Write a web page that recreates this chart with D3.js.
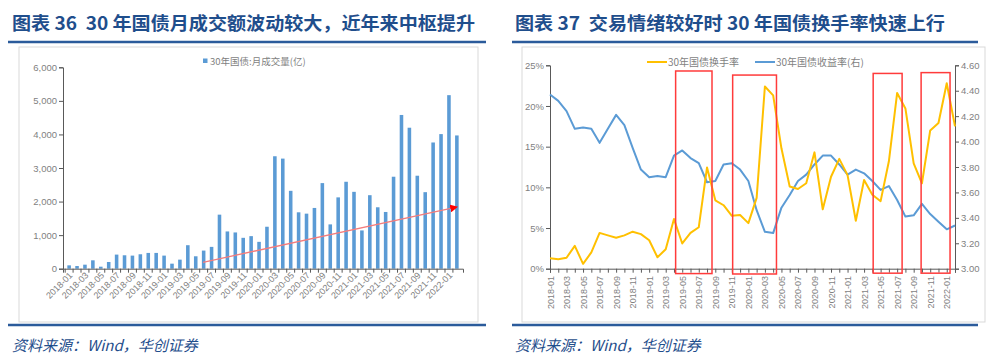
<!DOCTYPE html>
<html>
<head>
<meta charset="utf-8">
<script src="https://cdn.jsdelivr.net/npm/d3@7/dist/d3.min.js"></script>
<style>
  html, body { margin: 0; padding: 0; background: #fff; }
  svg { display: block; }
  .cn { font-family: "Noto Sans CJK SC", "Liberation Sans", sans-serif; }
  .num { font-family: "Liberation Sans", "Noto Sans CJK SC", sans-serif; }
  .ttl { white-space: pre; }
</style>
</head>
<body>
<div id="chart"></div>
<script>
// ---- data ----
const months = [
  "2018-01","2018-02","2018-03","2018-04","2018-05","2018-06","2018-07","2018-08","2018-09","2018-10","2018-11","2018-12",
  "2019-01","2019-02","2019-03","2019-04","2019-05","2019-06","2019-07","2019-08","2019-09","2019-10","2019-11","2019-12",
  "2020-01","2020-02","2020-03","2020-04","2020-05","2020-06","2020-07","2020-08","2020-09","2020-10","2020-11","2020-12",
  "2021-01","2021-02","2021-03","2021-04","2021-05","2021-06","2021-07","2021-08","2021-09","2021-10","2021-11","2021-12",
  "2022-01","2022-02"
];

// 30年国债:月成交量(亿)
const volume = [
  100, 80, 120, 250, 60, 200, 420, 400, 390, 430,
  470, 470, 390, 150, 270, 700, 370, 540, 650, 1610,
  1110, 1080, 920, 970, 800, 1250, 3350, 3280, 2320, 1680,
  1640, 1810, 2550, 1320, 2125, 2590, 2290, 1140, 2190, 1830,
  1690, 2740, 4580, 4200, 2770, 2280, 3760, 4010, 5170, 3970
];
// trend arrow: [month index, value]
const trendLine = [[17.5, 190], [48.9, 1820]];
const volumeTicks = [0, 1000, 2000, 3000, 4000, 5000, 6000];

// 30年国债换手率 (%)
const turnover = [
  1.27, 1.15, 1.35, 2.8, 0.6, 2.0, 4.4, 4.1, 3.8, 4.1,
  4.55, 4.25, 3.5, 1.4, 2.4, 6.1, 3.1, 4.4, 5.1, 12.45,
  8.4, 7.8, 6.5, 6.6, 5.6, 8.7, 22.4, 21.3, 14.8, 10.1,
  9.8, 10.5, 14.3, 7.3, 11.3, 13.5, 11.5, 5.9, 10.9, 9.1,
  8.3, 13.2, 21.6, 19.7, 12.95, 10.5, 17.0, 17.9, 22.8, 17.5
];
// 30年国债收益率(右)
const yieldRate = [
  4.37, 4.32, 4.24, 4.10, 4.11, 4.10, 3.99, 4.10, 4.21, 4.13,
  3.95, 3.78, 3.72, 3.73, 3.72, 3.89, 3.93, 3.87, 3.83, 3.68,
  3.69, 3.82, 3.83, 3.78, 3.69, 3.46, 3.29, 3.28, 3.48, 3.58,
  3.69, 3.74, 3.82, 3.89, 3.89, 3.82, 3.74, 3.78, 3.75, 3.69,
  3.62, 3.65, 3.54, 3.41, 3.42, 3.51, 3.43, 3.37, 3.31, 3.34
];
const turnoverTicks = [0, 5, 10, 15, 20, 25];
const yieldTicks = [3.0, 3.2, 3.4, 3.6, 3.8, 4.0, 4.2, 4.4, 4.6];
// highlight boxes: [from index, to index, top %, bottom %]
const highlightBoxes = [
  [15.2, 19.6, 24.3, -0.6],
  [22.1, 27.4, 23.8, -0.65],
  [39.1, 42.6, 24.0, -0.55],
  [44.9, 48.4, 24.1, -0.55]
];

const titles = ["图表 36  30 年国债月成交额波动较大，近年来中枢提升", "图表 37  交易情绪较好时 30 年国债换手率快速上行"];
const sourceText = "资料来源：Wind，华创证券";

// ---- drawing ----
const W = 1000, H = 362;
const titleBlue = "#1F4E8C";
const axisCol = "#595959";
const labelCol = "#7F7F7F";

const svg = d3.select("#chart").append("svg")
  .attr("width", W).attr("height", H);

// title, rule and source for both panels
[[12, 8, 486, 19, 478, 463], [515, 512, 978, 522, 985, 430]].forEach((p, k) => {
  const [tx, lx0, lx1, bx0, bx1, tlen] = p;
  svg.append("text").attr("class", "cn ttl")
    .attr("x", tx).attr("y", 30)
    .attr("textLength", tlen).attr("lengthAdjust", "spacingAndGlyphs")
    .style("font-size", "18px").style("font-weight", "700")
    .style("fill", titleBlue).text(titles[k]);
  svg.append("rect")
    .attr("x", bx0).attr("y", 47).attr("width", bx1 - bx0).attr("height", 275)
    .style("fill", "none").style("stroke", "#D9D9D9").style("stroke-width", 1);
  svg.append("line").attr("x1", lx0).attr("x2", lx1).attr("y1", 42).attr("y2", 42)
    .style("stroke", "#2B5B9B").style("stroke-width", 2.5);
  svg.append("line").attr("x1", lx0).attr("x2", lx1).attr("y1", 325).attr("y2", 325)
    .style("stroke", "#2B5B9B").style("stroke-width", 2.5);
  svg.append("text").attr("class", "cn")
    .attr("x", tx).attr("y", 351)
    .style("font-size", "15px").style("font-style", "italic")
    .style("fill", titleBlue).text(sourceText);
});

// ---------- left: bar chart ----------
const left = {x0: 63, x1: 463, y0: 268.7, y1: 67.3};
const xBand = d3.scaleBand().domain(months).range([left.x0, left.x1]).padding(0.55);
const xIdx = d3.scaleLinear().domain([0, months.length]).range([left.x0, left.x1]);
const yVol = d3.scaleLinear().domain([0, 6000]).range([left.y0, left.y1]);

const gL = svg.append("g");

gL.append("g")
  .attr("transform", "translate(" + left.x0 + ",0)")
  .call(d3.axisLeft(yVol).tickValues(volumeTicks).tickSize(4).tickFormat(d3.format(",")))
  .call(g => g.select(".domain").style("stroke", axisCol))
  .call(g => g.selectAll(".tick line").style("stroke", axisCol))
  .call(g => g.selectAll("text").attr("class", "num").style("font-size", "9.5px").style("fill", labelCol).attr("x", -6));

gL.append("g").selectAll("rect")
  .data(volume)
  .enter()
  .append("rect")
  .attr("x", (d, i) => xBand(months[i]))
  .attr("y", d => yVol(d))
  .attr("width", xBand.bandwidth())
  .attr("height", d => yVol(0) - yVol(d))
  .style("fill", "#5B9BD5");

// x axis
gL.append("g")
  .attr("transform", "translate(0," + left.y0 + ")")
  .call(d3.axisBottom(xBand).tickValues(months).tickSize(4).tickFormat(""))
  .call(g => g.select(".domain").style("stroke", axisCol))
  .call(g => g.selectAll(".tick line").attr("transform", "translate(" + (-xBand.step() / 2) + ",0)").style("stroke", axisCol));

gL.append("g").selectAll("text")
  .data(months.filter((m, i) => i % 2 === 0))
  .enter()
  .append("text")
  .attr("class", "num")
  .attr("transform", d => "translate(" + (xBand(d) + xBand.bandwidth() / 2 + 4) + "," + 276 + ") rotate(-45)")
  .attr("text-anchor", "end")
  .style("font-size", "9px").style("fill", labelCol)
  .text(d => d);

// trend arrow
svg.append("defs").append("marker")
  .attr("id", "arrowRed")
  .attr("viewBox", "0 0 10 10").attr("refX", 5).attr("refY", 5)
  .attr("markerWidth", 6).attr("markerHeight", 6).attr("orient", "auto")
  .append("path").attr("d", "M0,0 L10,5 L0,10 z").style("fill", "#FF0000");

gL.append("path")
  .datum(trendLine)
  .attr("d", d3.line().x(d => xIdx(d[0])).y(d => yVol(d[1])))
  .attr("marker-end", "url(#arrowRed)")
  .style("fill", "none").style("stroke", "#F47C7C").style("stroke-width", 1.3);

// legend
gL.append("rect").attr("x", 203).attr("y", 58.5).attr("width", 4.5).attr("height", 4.5).style("fill", "#5B9BD5");
gL.append("text").attr("class", "cn").attr("x", 210).attr("y", 65)
  .style("font-size", "9.5px").style("fill", labelCol).text("30年国债:月成交量(亿)");

// ---------- right: line chart ----------
const right = {x0: 550, x1: 955, y0: 268.7, y1: 65.3};
const xPt = d3.scalePoint().domain(months).range([right.x0, right.x1]);
const xPos = d3.scaleLinear().domain([0, months.length - 1]).range([right.x0, right.x1]);
const yPct = d3.scaleLinear().domain([0, 25]).range([right.y0, right.y1]);
const yYld = d3.scaleLinear().domain([3.0, 4.6]).range([right.y0, right.y1]);

const gR = svg.append("g");

gR.append("g")
  .attr("transform", "translate(" + right.x0 + ",0)")
  .call(d3.axisLeft(yPct).tickValues(turnoverTicks).tickSize(4).tickFormat(d => d + "%"))
  .call(g => g.select(".domain").style("stroke", axisCol))
  .call(g => g.selectAll(".tick line").style("stroke", axisCol))
  .call(g => g.selectAll("text").attr("class", "num").style("font-size", "9.5px").style("fill", labelCol).attr("x", -6));

gR.append("g")
  .attr("transform", "translate(" + right.x1 + ",0)")
  .call(d3.axisRight(yYld).tickValues(yieldTicks).tickSize(4).tickFormat(d3.format(".2f")))
  .call(g => g.select(".domain").style("stroke", axisCol))
  .call(g => g.selectAll(".tick line").style("stroke", axisCol))
  .call(g => g.selectAll("text").attr("class", "num").style("font-size", "9.5px").style("fill", labelCol).attr("x", 6));

gR.append("g")
  .attr("transform", "translate(0," + right.y0 + ")")
  .call(d3.axisBottom(xPt).tickValues(months).tickSize(4).tickFormat(""))
  .call(g => g.select(".domain").style("stroke", axisCol))
  .call(g => g.selectAll(".tick line").style("stroke", axisCol));

gR.append("g").selectAll("text")
  .data(months.filter((m, i) => i % 2 === 0))
  .enter()
  .append("text")
  .attr("class", "num")
  .attr("transform", d => "translate(" + (xPt(d) + 3.5) + "," + 276 + ") rotate(-90)")
  .attr("text-anchor", "end")
  .style("font-size", "9px").style("fill", labelCol)
  .text(d => d);

const lineTurn = d3.line().x((d, i) => xPt(months[i])).y(d => yPct(d));
const lineYld = d3.line().x((d, i) => xPt(months[i])).y(d => yYld(d));

gR.append("path").datum(yieldRate).attr("d", lineYld)
  .style("fill", "none").style("stroke", "#5B9BD5").style("stroke-width", 2).style("stroke-linejoin", "round");
gR.append("path").datum(turnover).attr("d", lineTurn)
  .style("fill", "none").style("stroke", "#FFC000").style("stroke-width", 2).style("stroke-linejoin", "round");

gR.append("g").selectAll("rect")
  .data(highlightBoxes)
  .enter()
  .append("rect")
  .attr("x", d => xPos(d[0]))
  .attr("y", d => yPct(d[2]))
  .attr("width", d => xPos(d[1]) - xPos(d[0]))
  .attr("height", d => yPct(d[3]) - yPct(d[2]))
  .style("fill", "none").style("stroke", "#FF3B3B").style("stroke-width", 1.5);

// legend
const legendR = [["30年国债换手率", "#FFC000", 647], ["30年国债收益率(右)", "#5B9BD5", 755]];
legendR.forEach(l => {
  gR.append("line").attr("x1", l[2]).attr("x2", l[2] + 20).attr("y1", 62).attr("y2", 62)
    .style("stroke", l[1]).style("stroke-width", 2);
  gR.append("text").attr("class", "cn").attr("x", l[2] + 21).attr("y", 65.5)
    .style("font-size", "10px").style("fill", labelCol).text(l[0]);
});
</script>
</body>
</html>
